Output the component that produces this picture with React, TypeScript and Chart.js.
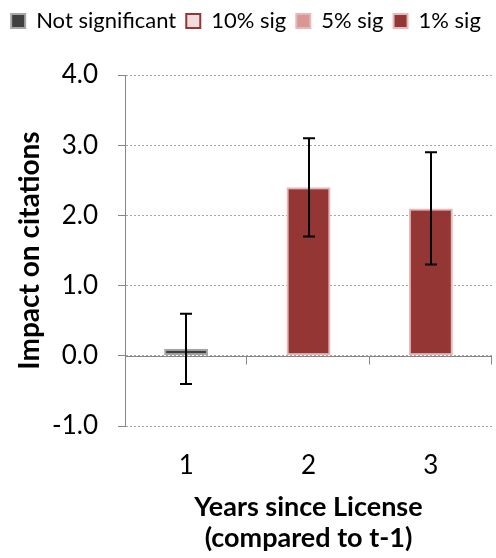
import React, { useEffect, useRef } from "react";
import { Chart, registerables } from "chart.js";

Chart.register(...registerables);

const categories = ["1", "2", "3"];
const impact = [0.1, 2.4, 2.1];
const ciLow = [-0.4, 1.7, 1.3];
const ciHigh = [0.6, 3.1, 2.9];
const significance = ["Not significant", "1% sig", "1% sig"];
const legendLevels = ["Not significant", "10% sig", "5% sig", "1% sig"];
const levelFill = ["#404040", "#f2dcdb", "#d99694", "#943634"];
const levelBorder = ["#a6a6a6", "#943634", "#e6b9b8", "#e6b9b8"];
const yTicks = { min: -1, max: 4, step: 1 };
const yTitle = "Impact on citations";
const xTitle = ["Years since License", "(compared to t-1)"];

const FONT = "Lato";
const AXIS = "#868686";

const legendSpacer = {
  id: "legendSpacer",
  beforeInit(chart: any) {
    const legend = chart.legend;
    if (!legend) return;
    const orig = legend.fit;
    legend.fit = function () {
      orig.call(this);
      this.height += 33;
    };
  },
};

const axisPlugin = {
  id: "zeroAxis",
  beforeDatasetsDraw(chart: any) {
    const { ctx, chartArea, scales } = chart;
    const x = scales.x;
    const y = scales.y;
    const y0 = Math.round(y.getPixelForValue(0)) + 0.5;
    ctx.save();
    ctx.strokeStyle = AXIS;
    ctx.lineWidth = 1;
    ctx.setLineDash([]);
    ctx.beginPath();
    ctx.moveTo(chartArea.left, y0);
    ctx.lineTo(chartArea.right, y0);
    for (let i = 0; i < categories.length; i++) {
      const bx = Math.round(x.getPixelForValue(i + 0.5)) - 0.5;
      ctx.moveTo(bx, y0);
      ctx.lineTo(bx, y0 + 8);
    }
    ctx.stroke();
    ctx.restore();
  },
};

const errorPlugin = {
  id: "errorBars",
  afterDatasetsDraw(chart: any) {
    const { ctx, scales } = chart;
    const x = scales.x;
    const y = scales.y;
    ctx.save();
    ctx.strokeStyle = "#000000";
    ctx.lineWidth = 2;
    ctx.setLineDash([]);
    for (let i = 0; i < categories.length; i++) {
      const cx = Math.round(x.getPixelForValue(i));
      const yt = y.getPixelForValue(ciHigh[i]);
      const yb = y.getPixelForValue(ciLow[i]);
      ctx.beginPath();
      ctx.moveTo(cx, yt);
      ctx.lineTo(cx, yb);
      ctx.moveTo(cx - 6, yt);
      ctx.lineTo(cx + 6, yt);
      ctx.moveTo(cx - 6, yb);
      ctx.lineTo(cx + 6, yb);
      ctx.stroke();
    }
    ctx.restore();
  },
};

export default function App() {
  const ref = useRef<HTMLCanvasElement>(null);
  useEffect(() => {
    if (!ref.current) return;
    const datasets = legendLevels.map((lvl, k) => ({
      label: lvl,
      data: impact.map((v, i) => (significance[i] === lvl ? v : null)),
      backgroundColor: levelFill[k],
      borderColor: levelBorder[k],
      borderWidth: 2,
      borderSkipped: false,
      grouped: false,
      categoryPercentage: 1,
      barPercentage: 0.36,
    }));
    const chart = new Chart(ref.current, {
      type: "bar",
      data: { labels: categories, datasets },
      plugins: [legendSpacer, axisPlugin, errorPlugin],
      options: {
        animation: false,
        responsive: false,
        maintainAspectRatio: false,
        layout: { padding: { left: 0, right: 4, top: 0, bottom: 0 } },
        plugins: {
          tooltip: { enabled: false },
          legend: {
            position: "top",
            labels: {
              boxWidth: 14,
              boxHeight: 14,
              padding: 10,
              color: "#000000",
              font: { family: FONT, size: 22 },
            },
          },
        },
        scales: {
          x: {
            afterFit(scale: any) {
              scale.height = 132;
            },
            grid: { display: false, drawTicks: false },
            border: { display: false },
            ticks: {
              color: "#000000",
              padding: 24,
              font: { family: FONT, size: 26 },
            },
            title: {
              display: true,
              text: xTitle,
              color: "#000000",
              font: { family: FONT, size: 27, weight: "bold", lineHeight: 1.15 },
              padding: { top: 8, bottom: 4 },
            },
          },
          y: {
            min: yTicks.min,
            max: yTicks.max,
            afterFit(scale: any) {
              scale.width = 125;
            },
            ticks: {
              stepSize: yTicks.step,
              color: "#000000",
              padding: 20,
              font: { family: FONT, size: 26 },
              callback: (v: any) => Number(v).toFixed(1),
            },
            grid: {
              color: "#a6a6a6",
              tickColor: AXIS,
              tickLength: 7,
            },
            border: { display: true, color: AXIS, width: 1, dash: [2, 2] },
            title: {
              display: true,
              text: yTitle,
              color: "#000000",
              font: { family: FONT, size: 28, weight: "bold" },
              padding: { top: 13, bottom: 10 },
            },
          },
        },
      },
    });
    return () => chart.destroy();
  }, []);
  return (
    <div style={{ position: "absolute", left: 0, top: 0, width: 496, height: 558 }}>
      <canvas ref={ref} width={496} height={558} />
    </div>
  );
}
